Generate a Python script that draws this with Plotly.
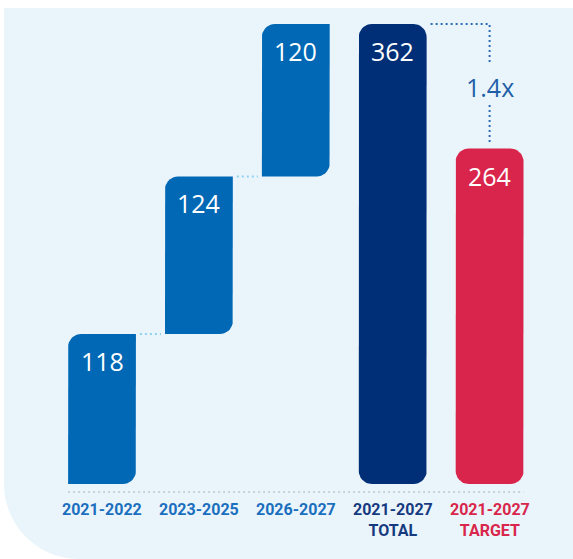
import plotly.graph_objects as go
import numpy as np

# ---------------- data ----------------
categories = ["2021-2022", "2023-2025", "2026-2027", "2021-2027<br>TOTAL", "2021-2027<br>TARGET"]
values = [118, 124, 120, 362, 264]
is_step = [True, True, True, False, False]
bar_colors = ["#0068b4", "#0068b4", "#0068b4", "#002f77", "#d9254b"]
label_colors = ["#1b6fbe", "#1b6fbe", "#1b6fbe", "#163a80", "#d9264b"]

# bases for the waterfall steps
bases = []
run = 0
for v, s in zip(values, is_step):
    if s:
        bases.append(run)
        run += v
    else:
        bases.append(0)

W, H = 573, 559
# axis geometry (pixels per unit)
px_x = 96.9
px_y = 1.2707
x0_px = 102.0   # pixel of category 0
y0_px = 484.0   # pixel of value 0
xr = [-x0_px / px_x, (W - x0_px) / px_x]
yr = [-(H - y0_px) / px_y, y0_px / px_y]

bw = 0.35  # half bar width in category units
R = 13.0   # corner radius in px
rx, ry = R / px_x, R / px_y


def rounded_poly(xa, xb, ya, yb, tl, tr, br, bl, n=10):
    xs, ys = [], []
    def arc(cx, cy, a0, a1):
        for t in np.linspace(a0, a1, n):
            xs.append(cx + rx * np.cos(t))
            ys.append(cy + ry * np.sin(t))
    if bl:
        arc(xa + rx, ya + ry, np.pi * 1.5, np.pi)
    else:
        xs.append(xa); ys.append(ya)
    if tl:
        arc(xa + rx, yb - ry, np.pi, np.pi / 2)
    else:
        xs.append(xa); ys.append(yb)
    if tr:
        arc(xb - rx, yb - ry, np.pi / 2, 0)
    else:
        xs.append(xb); ys.append(yb)
    if br:
        arc(xb - rx, ya + ry, 0, -np.pi / 2)
    else:
        xs.append(xb); ys.append(ya)
    xs.append(xs[0]); ys.append(ys[0])
    return xs, ys


fig = go.Figure()

for i, (v, b, s, c) in enumerate(zip(values, bases, is_step, bar_colors)):
    if s:
        corners = dict(tl=True, tr=False, br=True, bl=False)
    else:
        corners = dict(tl=True, tr=True, br=True, bl=True)
    xs, ys = rounded_poly(i - bw, i + bw, b, b + v, **corners)
    fig.add_trace(go.Scatter(x=xs, y=ys, mode="lines", fill="toself",
                             fillcolor=c, line=dict(width=0, color=c),
                             hoverinfo="skip", showlegend=False))
    fig.add_annotation(x=i, y=b + v, yshift=-27, text=str(v), showarrow=False,
                       font=dict(family="Open Sans", size=25, color="white"),
                       xanchor="center", yanchor="middle")

# connectors between waterfall steps
gap = 4 / px_x
for i in range(len(values) - 1):
    if is_step[i] and is_step[i + 1]:
        yv = bases[i] + values[i]
        fig.add_trace(go.Scatter(x=[i + bw + gap, i + 1 - bw - gap], y=[yv, yv], mode="lines",
                                 line=dict(color="#8fd2f0", width=2, dash="2px,3px"),
                                 hoverinfo="skip", showlegend=False))

# baseline
base_y = -8 / px_y
fig.add_trace(go.Scatter(x=[-bw, len(values) - 1 + bw], y=[base_y, base_y], mode="lines",
                         line=dict(color="#c9d2da", width=2, dash="2px,3px"),
                         hoverinfo="skip", showlegend=False))

# ratio bracket between total and target
tot, tgt = values[3], values[4]
ratio = tot / tgt
bcol = "#2c6cb6"
fig.add_trace(go.Scatter(x=[3 + bw + gap, 4, 4], y=[tot, tot, tot - 40 / px_y], mode="lines",
                         line=dict(color=bcol, width=2, dash="2px,3px"),
                         hoverinfo="skip", showlegend=False))
fig.add_trace(go.Scatter(x=[4, 4], y=[tot - 81 / px_y, tgt + 4 / px_y], mode="lines",
                         line=dict(color=bcol, width=2, dash="2px,3px"),
                         hoverinfo="skip", showlegend=False))
fig.add_annotation(x=4, y=tot - 63 / px_y, text=f"{ratio:.1f}x", showarrow=False,
                   font=dict(family="Open Sans", size=25, color="#1f5fa8"),
                   xanchor="center", yanchor="middle")

# category labels
for i, (cat, lc) in enumerate(zip(categories, label_colors)):
    fig.add_annotation(x=i, y=0, yshift=-14, text=f"<b>{cat}</b>", showarrow=False,
                       font=dict(family="Roboto", size=16, color=lc),
                       xanchor="center", yanchor="top", align="center")

# background panel with rounded bottom-left corner (paper coords)
def px2paper(x, y):
    return x / W, 1 - y / H

rad = 75
k = 0.5523 * rad
L, T, Rr, B = 4, 8, W, H
p = lambda x, y: "%.5f,%.5f" % px2paper(x, y)
path = (f"M {p(L, T)} L {p(Rr, T)} L {p(Rr, B)} L {p(L + rad, B)} "
        f"C {p(L + rad - k, B)} {p(L, B - rad + k)} {p(L, B - rad)} Z")
fig.add_shape(type="path", path=path, xref="paper", yref="paper",
              fillcolor="#eaf5fb", line=dict(width=0), layer="below")

fig.update_layout(
    width=W, height=H,
    margin=dict(l=0, r=0, t=0, b=0),
    paper_bgcolor="white", plot_bgcolor="rgba(0,0,0,0)",
    xaxis=dict(range=xr, visible=False, fixedrange=True),
    yaxis=dict(range=yr, visible=False, fixedrange=True),
    showlegend=False,
)

fig.write_html("out.html")
